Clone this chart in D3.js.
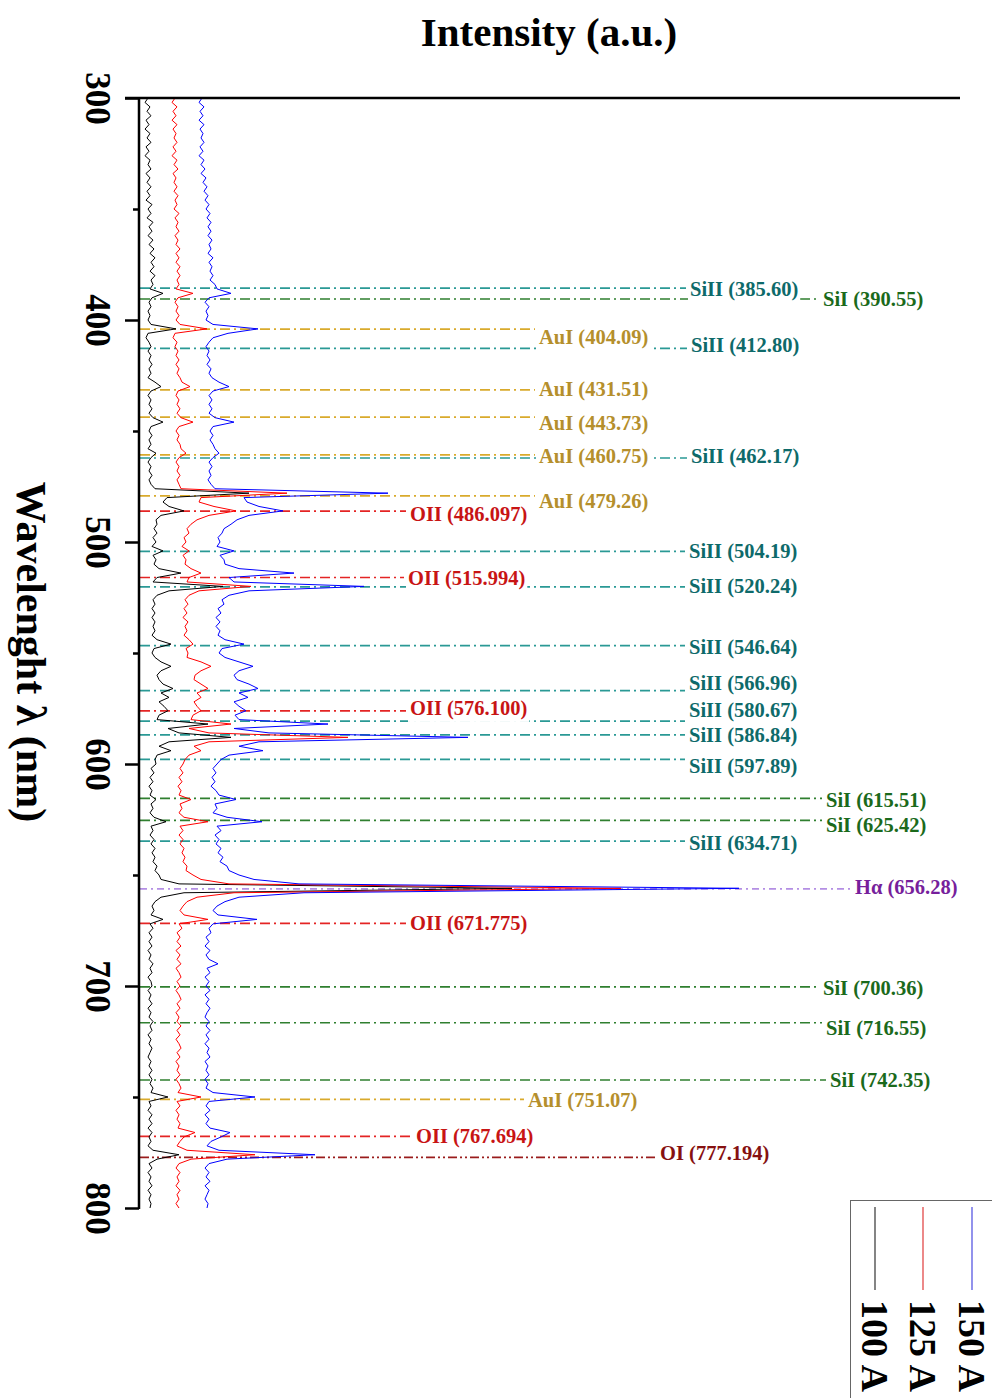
<!DOCTYPE html>
<html><head><meta charset="utf-8">
<script src="https://cdn.jsdelivr.net/npm/d3@7"></script>
<style>
body{margin:0;background:#fff}
svg{display:block}
text{font-family:"Liberation Serif","Times New Roman",serif;font-weight:bold}
</style>
</head><body>
<svg id="c" width="992" height="1398"></svg>
<script>
// ---------------- DATA ----------------
const wavelengths = d3.range(300, 801, 2); // nm sampling grid
const seriesNames = ["100 A", "125 A", "150 A"];

// intensities (a.u., stacked with offset) at each wavelength of the grid
const int100 = [
 9, 6, 11, 8, 12, 7, 10, 6, 11, 8,
 12, 7, 10, 6, 11, 9, 12, 7, 11, 8,
 12, 8, 11, 7, 13, 9, 12, 8, 14, 10,
 13, 9, 14, 10, 15, 11, 16, 12, 15, 11,
 16, 12, 14, 11, 24, 13, 10, 12, 9, 11,
 9, 12, 37, 9, 7, 10, 12, 9, 12, 10,
 13, 10, 12, 9, 16, 22, 12, 9, 12, 10,
 13, 10, 14, 24, 12, 10, 13, 10, 12, 9,
 17, 12, 9, 12, 10, 13, 10, 12, 16, 110,
 28, 24, 30, 45, 22, 17, 18, 15, 18, 14,
 17, 13, 24, 14, 17, 15, 20, 42, 18, 14,
 84, 30, 18, 14, 16, 13, 16, 13, 16, 14,
 16, 13, 18, 32, 15, 13, 16, 22, 32, 22,
 18, 20, 24, 34, 22, 30, 20, 25, 29, 20,
 18, 69, 29, 40, 92, 30, 20, 32, 18, 16,
 17, 12, 15, 11, 14, 10, 13, 11, 17, 12,
 14, 11, 15, 27, 12, 14, 11, 15, 12, 16,
 13, 16, 14, 18, 16, 20, 22, 40, 373, 45,
 22, 16, 13, 15, 12, 24, 11, 14, 10, 13,
 10, 13, 9, 12, 10, 14, 11, 13, 9, 12,
 13, 9, 12, 10, 13, 9, 12, 10, 14, 11,
 13, 9, 12, 10, 13, 11, 9, 12, 10, 13,
 10, 13, 11, 14, 12, 29, 10, 12, 9, 13,
 10, 13, 9, 13, 10, 12, 9, 14, 40, 18,
 10, 13, 9, 12, 10, 13, 9, 12, 10, 12,
 11
];
const int125 = [
 36, 33, 38, 34, 37, 33, 38, 34, 37, 35,
 38, 34, 37, 33, 38, 35, 39, 34, 37, 35,
 38, 35, 39, 36, 38, 35, 40, 36, 39, 37,
 40, 36, 39, 37, 41, 37, 40, 37, 41, 38,
 41, 38, 40, 37, 54, 39, 36, 39, 37, 40,
 37, 41, 68, 36, 34, 38, 36, 39, 37, 40,
 37, 40, 38, 41, 43, 51, 39, 37, 40, 38,
 41, 38, 42, 54, 40, 37, 40, 38, 41, 42,
 47, 40, 37, 40, 38, 41, 38, 40, 42, 148,
 62, 60, 75, 97, 70, 58, 52, 48, 50, 45,
 47, 43, 50, 44, 47, 46, 52, 62, 50, 48,
 112, 60, 50, 46, 49, 45, 48, 44, 49, 46,
 48, 45, 50, 54, 47, 49, 48, 62, 72, 62,
 56, 55, 62, 69, 58, 62, 55, 58, 62, 54,
 52, 92, 50, 70, 209, 70, 55, 62, 50, 46,
 44, 41, 44, 40, 43, 39, 42, 40, 52, 41,
 43, 40, 45, 69, 41, 44, 40, 44, 41, 45,
 43, 46, 44, 48, 47, 54, 62, 90, 482, 95,
 58, 48, 44, 41, 45, 69, 40, 43, 38, 41,
 38, 42, 37, 41, 38, 42, 37, 40, 42, 38,
 41, 37, 40, 42, 38, 41, 37, 40, 38, 42,
 38, 41, 37, 40, 42, 38, 41, 37, 40, 38,
 41, 37, 40, 42, 39, 62, 38, 41, 37, 40,
 38, 41, 39, 56, 45, 41, 38, 48, 116, 52,
 40, 37, 41, 38, 40, 37, 41, 38, 40, 37,
 40
];
const int150 = [
 63, 60, 65, 61, 64, 60, 65, 61, 64, 62,
 65, 61, 64, 60, 65, 62, 66, 62, 67, 64,
 68, 65, 69, 66, 70, 67, 71, 68, 72, 69,
 72, 69, 73, 70, 72, 69, 74, 70, 73, 71,
 74, 71, 76, 78, 92, 70, 66, 70, 67, 69,
 67, 74, 119, 89, 74, 70, 67, 70, 68, 71,
 68, 72, 70, 73, 80, 90, 74, 70, 73, 70,
 73, 70, 76, 95, 74, 71, 74, 71, 74, 76,
 80, 74, 70, 73, 70, 72, 69, 72, 76, 249,
 105, 108, 120, 144, 110, 98, 92, 85, 83, 79,
 81, 78, 95, 81, 85, 86, 100, 155, 90, 95,
 225, 110, 90, 83, 85, 79, 82, 77, 81, 77,
 81, 79, 86, 105, 83, 80, 86, 100, 114, 100,
 95, 98, 110, 119, 100, 109, 95, 100, 107, 96,
 100, 189, 95, 130, 329, 120, 100, 124, 90, 82,
 78, 74, 77, 73, 76, 72, 77, 80, 97, 76,
 78, 74, 88, 123, 78, 82, 76, 80, 77, 82,
 79, 84, 81, 88, 90, 100, 115, 160, 600, 165,
 100, 86, 78, 74, 79, 118, 74, 70, 72, 67,
 70, 66, 71, 67, 70, 79, 68, 71, 66, 70,
 67, 71, 66, 70, 67, 71, 68, 66, 70, 67,
 71, 67, 70, 66, 70, 68, 71, 66, 69, 67,
 70, 66, 69, 67, 74, 116, 70, 67, 71, 66,
 70, 67, 71, 91, 82, 72, 68, 80, 176, 88,
 70, 66, 70, 67, 71, 66, 70, 68, 66, 69,
 68
];

// identified emission lines
const lineIons = ["SiII","SiI","AuI","SiII","AuI","AuI","AuI","SiII","AuI","OII",
  "SiII","OII","SiII","SiII","SiII","OII","SiII","SiII","SiII","SiI",
  "SiI","SiII","Hα","OII","SiI","SiI","SiI","AuI","OII","OI"];
const lineWavelengths = [385.60, 390.55, 404.09, 412.80, 431.51, 443.73, 460.75, 462.17, 479.26, 486.097,
  504.19, 515.994, 520.24, 546.64, 566.96, 576.100, 580.67, 586.84, 597.89, 615.51,
  625.42, 634.71, 656.28, 671.775, 700.36, 716.55, 742.35, 751.07, 767.694, 777.194];
const lineWavelengthText = ["385.60","390.55","404.09","412.80","431.51","443.73","460.75","462.17","479.26","486.097",
  "504.19","515.994","520.24","546.64","566.96","576.100","580.67","586.84","597.89","615.51",
  "625.42","634.71","656.28","671.775","700.36","716.55","742.35","751.07","767.694","777.194"];

const majorTicks = [300, 400, 500, 600, 700, 800];
const minorTicks = [350, 450, 550, 650, 750];

// ---------------- LAYOUT / STYLE ----------------
const svg = d3.select("#c");
const axisX = 139, yTop = 98, yBottom = 1208;
const y = d3.scaleLinear().domain([300, 800]).range([yTop, yBottom]);
const x = d3.scaleLinear().domain([0, 820]).range([axisX, axisX + 820]);

const ionStyle = {
  "SiII": {line: "#2a9995", text: "#0e6a6a", dash: "10,4,2,4"},
  "SiI":  {line: "#2f7f2f", text: "#1b6a1b", dash: "10,4,2,4"},
  "AuI":  {line: "#d9aa2c", text: "#b58f2c", dash: "10,4,2,4"},
  "OII":  {line: "#e42424", text: "#c81414", dash: "10,4,2,4"},
  "OI":   {line: "#9a1c1c", text: "#861010", dash: "9,3,2,3,2,3"},
  "Hα":   {line: "#b48fe4", text: "#771f9c", dash: "7,4,2,4"}
};
// label placement (px): start x of text, vertical shift from the line
const labelX  = [690,823,539,691,539,539,539,691,539,410,689,408,689,689,689,410,689,689,689,826,826,689,855,410,823,826,830,528,416,660];
const labelDy = [1,0,8,-3,-1,6,1,-2,5,3,0,0,-1,1,-8,-3,-11,0,7,2,5,2,-2,0,1,5,0,1,0,-4];

// titles
svg.append("text").attr("x", 549).attr("y", 46).attr("text-anchor", "middle")
  .attr("font-size", 41).attr("fill", "#000").text("Intensity (a.u.)");
svg.append("text").attr("transform", "translate(31,652) rotate(90)")
  .attr("text-anchor", "middle").attr("dominant-baseline", "central")
  .attr("font-size", 42).attr("fill", "#000").text("Wavelenght λ (nm)");

// reference lines
const lines = lineWavelengths.map((w, i) => ({w, ion: lineIons[i], txt: lineIons[i] + " (" + lineWavelengthText[i] + ")", lx: labelX[i], dy: labelDy[i]}));
const gLines = svg.append("g");
gLines.selectAll("line").data(lines).join("line")
  .attr("x1", axisX + 1).attr("x2", d => d.lx - 4)
  .attr("y1", d => y(d.w)).attr("y2", d => y(d.w))
  .attr("stroke", d => ionStyle[d.ion].line)
  .attr("stroke-width", 1.7)
  .attr("stroke-dasharray", d => ionStyle[d.ion].dash);

// spectra
const spectra = [int100, int125, int150];
const colors = ["#000000", "#ff0000", "#0000ff"];
const lineGen = d3.line().x(d => x(d[1])).y(d => y(d[0]));
spectra.forEach((vals, k) => {
  svg.append("path")
    .attr("d", lineGen(wavelengths.map((w, i) => [w, vals[i]])))
    .attr("fill", "none").attr("stroke", colors[k]).attr("stroke-width", 1)
    .attr("stroke-linejoin", "round");
});

// labels with white backing
const gLab = svg.append("g");
const texts = lines.map(d => gLab.append("text")
  .attr("x", d.lx).attr("y", y(d.w) + d.dy)
  .attr("dominant-baseline", "central")
  .attr("font-size", 20.5)
  .attr("fill", ionStyle[d.ion].text)
  .text(d.txt));
const bgG = svg.insert("g", () => gLab.node());
texts.forEach(t => {
  const b = t.node().getBBox();
  bgG.append("rect").attr("x", b.x - 2).attr("y", b.y - 1)
    .attr("width", b.width + 4).attr("height", b.height + 3).attr("fill", "#fff");
});

// axes
const gAx = svg.append("g").attr("transform", `translate(${axisX},0)`);
gAx.call(d3.axisLeft(y).tickValues(minorTicks).tickSize(6).tickFormat(""))
  .call(g => g.select(".domain").remove());
const gMaj = svg.append("g").attr("transform", `translate(${axisX},0)`);
gMaj.call(d3.axisLeft(y).tickValues(majorTicks).tickSize(14).tickFormat(d3.format("d")))
  .call(g => g.select(".domain").remove());
gMaj.selectAll(".tick text")
  .attr("x", null).attr("dy", null)
  .attr("transform", "translate(-42,0) rotate(90)")
  .attr("text-anchor", "middle").attr("dominant-baseline", "central")
  .attr("font-size", 35).attr("font-family", '"Liberation Serif",serif').attr("font-weight", "bold")
  .attr("fill", "#000");
svg.selectAll(".tick line").attr("stroke", "#000").attr("stroke-width", 2.5);
svg.append("line").attr("x1", axisX).attr("x2", axisX).attr("y1", yTop - 1).attr("y2", yBottom + 1)
  .attr("stroke", "#000").attr("stroke-width", 2.5);
svg.append("line").attr("x1", axisX - 14).attr("x2", 960).attr("y1", yTop).attr("y2", yTop)
  .attr("stroke", "#000").attr("stroke-width", 2.5);

// legend
const leg = svg.append("g");
leg.append("rect").attr("x", 850.5).attr("y", 1200.5).attr("width", 160).attr("height", 220)
  .attr("fill", "#fff").attr("stroke", "#666").attr("stroke-width", 1);
const legX = [875, 923, 972];
const legColors = ["#333333", "#e03a3a", "#4a4ae0"];
seriesNames.forEach((n, k) => {
  leg.append("line").attr("x1", legX[k]).attr("x2", legX[k]).attr("y1", 1207).attr("y2", 1290)
    .attr("stroke", legColors[k]).attr("stroke-width", 1.2);
  leg.append("text").attr("transform", `translate(${legX[k]},1300) rotate(90)`)
    .attr("dominant-baseline", "central").attr("font-size", 38).attr("fill", "#000").text(n);
});
</script>
</body></html>
